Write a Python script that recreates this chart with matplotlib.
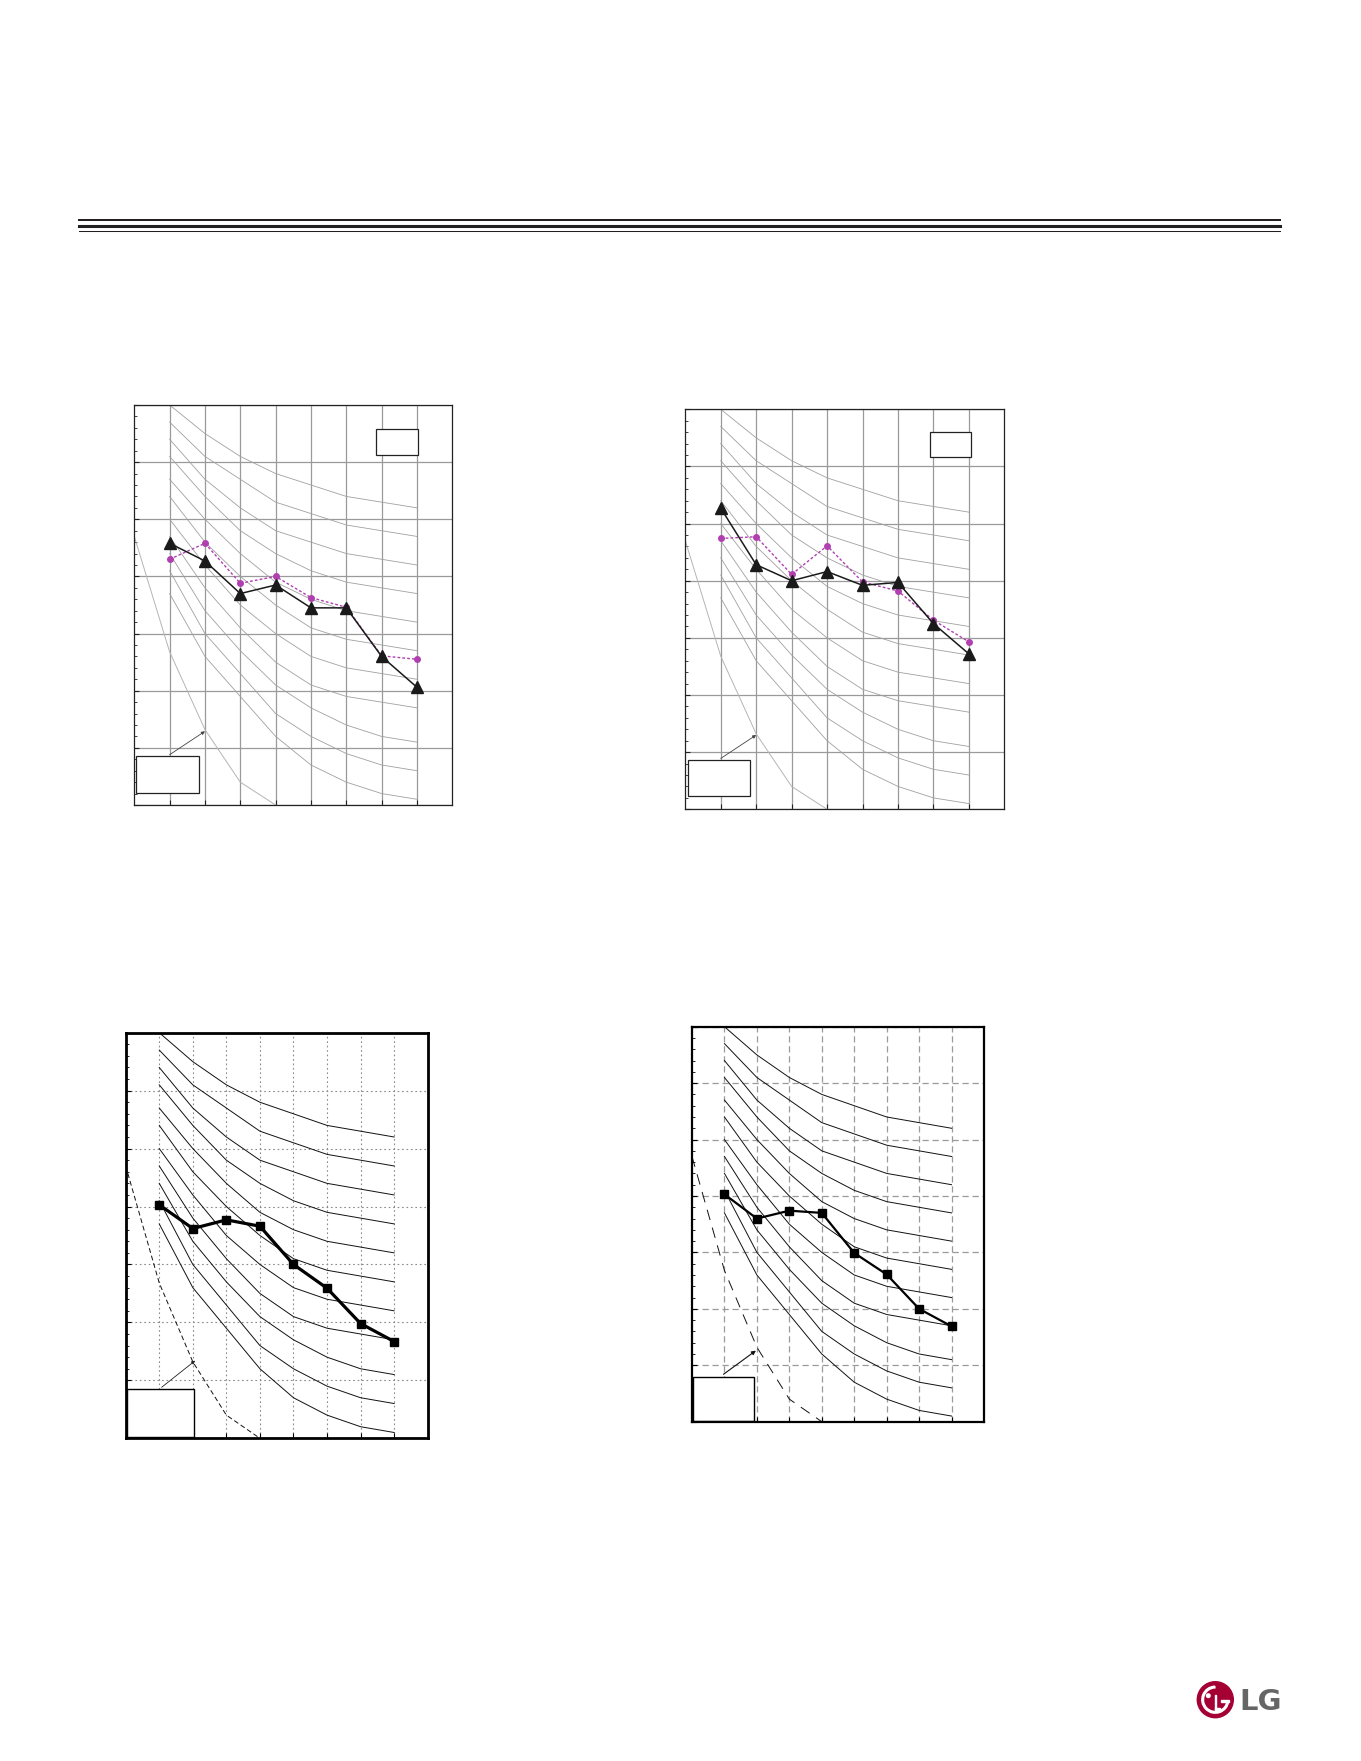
import numpy as np
import matplotlib
matplotlib.use("Agg")
import matplotlib.pyplot as plt
from matplotlib.patches import Rectangle, Circle, Wedge
from matplotlib.lines import Line2D
from matplotlib.ticker import MultipleLocator, FixedLocator

# ---------------- data ----------------
bands = ['63', '125', '250', '500', '1000', '2000', '4000', '8000']
threshold_bands = ['31.5', '63', '125', '250', '500']
threshold_db = [57.0, 36.8, 23.2, 14.0, 10.0]

nc_levels = [15, 20, 25, 30, 35, 40, 45, 50, 55, 60, 65]
nc15 = [47, 36, 29, 22, 17, 14, 12, 11]
nc20 = [51, 40, 33, 26, 22, 19, 17, 16]
nc25 = [54, 44, 37, 31, 27, 24, 22, 21]
nc30 = [57, 48, 41, 35, 31, 29, 28, 27]
nc35 = [60, 52, 45, 40, 36, 34, 33, 32]
nc40 = [64, 56, 50, 45, 41, 39, 38, 37]
nc45 = [67, 60, 54, 49, 46, 44, 43, 42]
nc50 = [71, 64, 58, 54, 51, 49, 48, 47]
nc55 = [74, 67, 62, 58, 56, 54, 53, 52]
nc60 = [77, 71, 67, 63, 61, 59, 58, 57]
nc65 = [80, 75, 71, 68, 66, 64, 63, 62]
nc_curves = [nc15, nc20, nc25, nc30, nc35, nc40, nc45, nc50, nc55, nc60, nc65]

tl_triangle = [55.8, 52.7, 47.0, 48.5, 44.5, 44.5, 36.0, 30.6]
tl_circle = [53.0, 55.8, 48.8, 50.0, 46.3, 44.6, 36.1, 35.5]
tr_triangle = [62.7, 52.8, 50.0, 51.6, 49.2, 49.7, 42.5, 37.2]
tr_circle = [57.4, 57.7, 51.1, 56.1, 49.8, 48.2, 43.1, 39.3]
bl_square = [50.3, 46.2, 47.7, 46.6, 40.0, 35.9, 29.8, 26.7]
br_square = [50.3, 46.0, 47.4, 47.0, 39.9, 36.1, 30.0, 26.9]

# ---------------- layout ----------------
W, H = 1361, 1761
fig = plt.figure(figsize=(W / 100, H / 100), dpi=100)
fig.patch.set_facecolor('white')


def px_axes(x0, y0, x1, y1):
    return fig.add_axes([x0 / W, 1 - y1 / H, (x1 - x0) / W, (y1 - y0) / H])


def px_box(ax, x0, y0, x1, y1, lw=0.9, ec='#222222'):
    r = Rectangle((x0 / W, 1 - y1 / H), (x1 - x0) / W, (y1 - y0) / H,
                  transform=fig.transFigure, facecolor='white', edgecolor=ec,
                  lw=lw, zorder=6, clip_on=False)
    ax.add_patch(r)


xpos = np.arange(1, len(bands) + 1)
thr_x = np.arange(0, len(threshold_bands))


def base_axes(ax, frame_lw, frame_color, grid_kw, nc_kw, thr_kw):
    ax.set_xlim(0, len(bands) + 1)
    ax.set_ylim(10, 80)
    ax.xaxis.set_major_locator(FixedLocator(xpos))
    ax.yaxis.set_major_locator(MultipleLocator(10))
    ax.yaxis.set_minor_locator(MultipleLocator(2))
    ax.tick_params(which='both', direction='in', labelleft=False, labelbottom=False,
                   left=True, bottom=True, right=False, top=False, color=frame_color)
    ax.tick_params(which='major', length=3.5, width=0.8)
    ax.tick_params(which='minor', length=2.5, width=0.6)
    ax.tick_params(axis='x', which='minor', bottom=False)
    for s in ax.spines.values():
        s.set_linewidth(frame_lw)
        s.set_color(frame_color)
        s.set_zorder(7)
    ax.grid(True, which='major', **grid_kw)
    ax.set_axisbelow(True)
    for curve in nc_curves:
        ax.plot(xpos, curve, zorder=2, **nc_kw)
    ax.plot(thr_x, threshold_db, zorder=2, clip_on=True, **thr_kw)


# ---- top-left ----
ax1 = px_axes(134.3, 405, 452.3, 805)
base_axes(ax1, 0.9, '#222222', dict(color='#9a9a9a', lw=0.9),
          dict(color='#a0a0a0', lw=0.6), dict(color='#b5b5b5', lw=0.7))
ax1.plot(xpos, tl_circle, color='#b040b0', lw=1.0, ls=(0, (2, 1.5)), marker='o',
         markersize=4, zorder=4)
ax1.plot(xpos, tl_triangle, color='#1a1a1a', lw=1.1, marker='^', markersize=8.5, zorder=5)
px_box(ax1, 376.3, 429.3, 418.3, 455.3)
px_box(ax1, 136.3, 756.3, 199.3, 793.3)
ax1.annotate('', xy=(2.0, 22.9), xytext=(1.0, 18.8),
             arrowprops=dict(arrowstyle='-|>', lw=0.6, color='#444444',
                             mutation_scale=5, shrinkA=0, shrinkB=0), zorder=6)

# ---- top-right ----
ax2 = px_axes(685.3, 409.3, 1004.3, 809.3)
base_axes(ax2, 0.9, '#222222', dict(color='#9a9a9a', lw=0.9),
          dict(color='#a0a0a0', lw=0.6), dict(color='#b5b5b5', lw=0.7))
ax2.plot(xpos, tr_circle, color='#b040b0', lw=1.0, ls=(0, (2, 1.5)), marker='o',
         markersize=4, zorder=4)
ax2.plot(xpos, tr_triangle, color='#1a1a1a', lw=1.1, marker='^', markersize=8.5, zorder=5)
px_box(ax2, 929.7, 431.7, 971.3, 457.3)
px_box(ax2, 688.3, 760.3, 750.3, 796.3)
ax2.annotate('', xy=(2.0, 23.0), xytext=(1.0, 18.9),
             arrowprops=dict(arrowstyle='-|>', lw=0.6, color='#444444',
                             mutation_scale=5, shrinkA=0, shrinkB=0), zorder=6)

# ---- bottom-left ----
ax3 = px_axes(125.7, 1032.7, 427.7, 1438.3)
base_axes(ax3, 2.0, '#000000', dict(color='#8a8a8a', lw=0.8, ls=(0, (1.5, 2.5))),
          dict(color='#111111', lw=0.7), dict(color='#111111', lw=0.7, ls=(0, (5, 3))))
ax3.plot(xpos, bl_square, color='#000000', lw=2.3, marker='s', markersize=6, zorder=5)
px_box(ax3, 127.3, 1389.3, 194.3, 1437.3, lw=1.0, ec='#000000')
ax3.annotate('', xy=(2.07, 23.4), xytext=(1.07, 18.8),
             arrowprops=dict(arrowstyle='-|>', lw=0.6, color='#222222',
                             mutation_scale=5, shrinkA=0, shrinkB=0), zorder=6)

# ---- bottom-right ----
ax4 = px_axes(692, 1026.7, 984, 1421.7)
base_axes(ax4, 1.6, '#000000', dict(color='#9a9a9a', lw=0.9, ls=(0, (5, 3))),
          dict(color='#111111', lw=0.7), dict(color='#111111', lw=0.7, ls=(0, (11, 8))))
ax4.plot(xpos, br_square, color='#000000', lw=1.6, marker='s', markersize=6, zorder=5)
px_box(ax4, 692.7, 1377.3, 754.0, 1421.0, lw=1.0, ec='#000000')
ax4.annotate('', xy=(1.97, 22.6), xytext=(0.97, 18.4),
             arrowprops=dict(arrowstyle='-|>', lw=0.8, color='#111111',
                             mutation_scale=6, shrinkA=0, shrinkB=0), zorder=6)

# ---------------- header rules ----------------
for yp, lw in [(220.3, 1.45), (225.5, 2.2), (230.6, 0.75)]:
    fig.add_artist(Line2D([79 / W, 1280 / W], [1 - yp / H, 1 - yp / H],
                          transform=fig.transFigure, color='#231f20', lw=lw))

# ---------------- LG logo ----------------
lax = px_axes(1190, 1675, 1290, 1725)
lax.set_xlim(1190, 1290)
lax.set_ylim(1725, 1675)
lax.set_aspect('equal')
lax.axis('off')
cx, cy, r = 1215.3, 1699.7, 18
lax.add_patch(Circle((cx, cy), r, color='#A50034'))
lax.add_patch(Wedge((cx, cy), 13.5, 5, 268, width=1.7, color='white'))
lax.add_patch(Rectangle((cx + 5.5, cy + 0.6), 8.2, 1.7, color='white'))
lax.add_patch(Rectangle((cx - 0.8, cy - 4.5), 1.7, 14.5, color='white'))
lax.add_patch(Rectangle((cx - 0.8, cy + 8.4), 5.5, 1.6, color='white'))
lax.add_patch(Circle((cx - 7, cy - 4), 1.8, color='white'))
lax.text(1239.5, 1701.5, 'LG', ha='left', va='center', fontsize=21, fontweight='bold',
         color='#666666', family='DejaVu Sans')

fig.savefig('out.png', dpi=100, facecolor='white')
